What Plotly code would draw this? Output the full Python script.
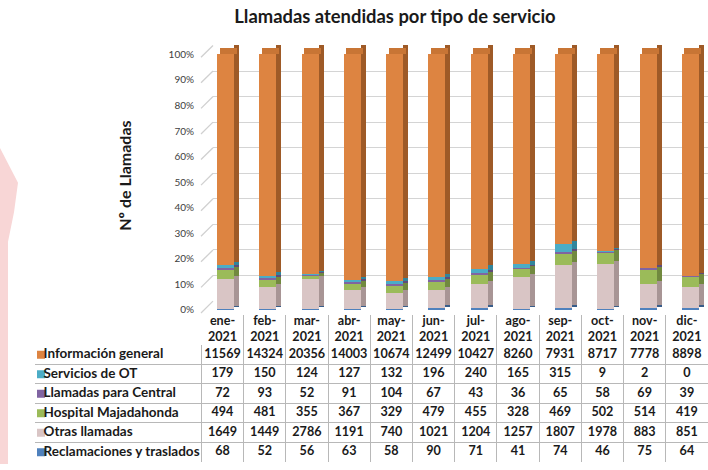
import plotly.graph_objects as go

# ---------------- data ----------------
months_header = ["ene-<br>2021", "feb-<br>2021", "mar-<br>2021", "abr-<br>2021", "may-<br>2021", "jun-<br>2021",
                 "jul-<br>2021", "ago-<br>2021", "sep-<br>2021", "oct-<br>2021", "nov-<br>2021", "dic-<br>2021"]

series_names = ["Información general", "Servicios de OT", "Llamadas para Central",
                "Hospital Majadahonda", "Otras llamadas", "Reclamaciones y traslados"]
informacion_general = [11569, 14324, 20356, 14003, 10674, 12499, 10427, 8260, 7931, 8717, 7778, 8898]
servicios_ot = [179, 150, 124, 127, 132, 196, 240, 165, 315, 9, 2, 0]
llamadas_central = [72, 93, 52, 91, 104, 67, 43, 36, 65, 58, 69, 39]
hospital_majadahonda = [494, 481, 355, 367, 329, 479, 455, 328, 469, 502, 514, 419]
otras_llamadas = [1649, 1449, 2786, 1191, 740, 1021, 1204, 1257, 1807, 1978, 883, 851]
reclamaciones = [68, 52, 56, 63, 58, 90, 71, 41, 74, 46, 75, 64]
y_ticks = list(range(0, 101, 10))

# ---------------- styles ----------------
front_colors = ["#DD8441", "#4BACC6", "#8064A2", "#9BBB59", "#D9C5C5", "#4F81BD"]
side_colors = ["#9E5A27", "#31859C", "#5F4B79", "#71893F", "#A89595", "#385D8A"]
top_color = "#C87535"
FONT = "Lato"
TXT = "#1a1a1a"
GRID = "#b8b8b8"

series_values = [informacion_general, servicios_ot, llamadas_central,
                 hospital_majadahonda, otras_llamadas, reclamaciones]
n = len(informacion_general)
xs = list(range(n))
totals = [sum(s[i] for s in series_values) for i in range(n)]

FW, FH = 708, 470
def PX(px):
    return px / FW
def PY(py):
    return 1 - py / FH

COLW = 42.25      # width of a month column (px)
LABW = 166        # width of the label column (px)
TAB_L = 35        # table left (px)
MON_L = TAB_L + LABW
HEAD_T, HEAD_B = 319, 349
ROW_H = 19.9

Y0, PXPCT = 314, 2.59          # bar axis: 0% pixel and pixels per percent
WALL_DY = 9                    # back wall shift up (px)

fig = go.Figure()

# back-wall gridlines subplot (x / y): invisible anchor trace
fig.add_trace(go.Scatter(x=[0], y=[0], mode="markers", marker=dict(opacity=0),
                         hoverinfo="skip", showlegend=False, xaxis="x", yaxis="y"))

# ---------------- stacked 100% bars ----------------
cum = [0.0] * n
DEPTH = 1.2
for k in list(range(len(series_values)))[::-1]:
    vals = series_values[k]
    pct = [v / t * 100 for v, t in zip(vals, totals)]
    base = cum[:]
    is_top = (k == 0)
    fig.add_trace(go.Bar(x=xs, y=pct, base=base, width=0.40, offset=-0.20,
                         marker=dict(color=front_colors[k], line=dict(width=0)),
                         name=series_names[k], showlegend=False,
                         xaxis="x2", yaxis="y2"))
    side_y = [p + (2 * DEPTH if is_top else 0) for p in pct]
    fig.add_trace(go.Bar(x=xs, y=side_y, base=[b + DEPTH for b in base], width=0.12, offset=0.20,
                         marker=dict(color=side_colors[k], line=dict(width=0)),
                         hoverinfo="skip", showlegend=False,
                         xaxis="x2", yaxis="y2"))
    cum = [c + p for c, p in zip(cum, pct)]

fig.add_trace(go.Bar(x=xs, y=[2 * DEPTH] * n, base=cum, width=0.40, offset=-0.14,
                     marker=dict(color=top_color, line=dict(width=0)),
                     hoverinfo="skip", showlegend=False, xaxis="x2", yaxis="y2"))

# ---------------- data table (header on x4/y4, body on x3/y3) ----------------
month_centers = [LABW + COLW * (i + 0.5) for i in range(n)]
nrows = len(series_values)
cell_x, cell_y, cell_t = [], [], []
for r, s in enumerate(series_values):
    for i in range(n):
        cell_x.append(month_centers[i])
        cell_y.append(nrows - r - 0.5)
        cell_t.append(f"<b>{s[i]}</b>")
fig.add_trace(go.Scatter(x=cell_x, y=cell_y, text=cell_t, mode="text", textposition="middle center",
                         textfont=dict(family=FONT, size=12.6, color=TXT),
                         hoverinfo="skip", showlegend=False, xaxis="x3", yaxis="y3"))
row_y = [nrows - r - 0.5 for r in range(nrows)]
fig.add_trace(go.Scatter(x=[5.5] * nrows, y=row_y, mode="markers",
                         marker=dict(symbol="square", size=8, color=front_colors, line=dict(width=0)),
                         hoverinfo="skip", showlegend=False, xaxis="x3", yaxis="y3"))
fig.add_trace(go.Scatter(x=[8] * nrows, y=row_y, mode="text", textposition="middle right",
                         text=[f"<b>{s}</b>" for s in series_names],
                         textfont=dict(family=FONT, size=13.5, color=TXT),
                         hoverinfo="skip", showlegend=False, xaxis="x3", yaxis="y3"))
fig.add_trace(go.Scatter(x=[i + 0.5 for i in range(n)], y=[0.5] * n, mode="text",
                         text=[f"<b>{m}</b>" for m in months_header], textposition="middle center",
                         textfont=dict(family=FONT, size=12.6, color=TXT),
                         hoverinfo="skip", showlegend=False, xaxis="x4", yaxis="y4"))

# ---------------- decorations ----------------
shapes = []
for v in y_ticks:
    yf = Y0 + 3 - PXPCT * v
    yb = Y0 - WALL_DY - PXPCT * v
    shapes.append(dict(type="line", xref="paper", yref="paper",
                       x0=PX(201), y0=PY(yf), x1=PX(213), y1=PY(yb),
                       line=dict(color="#d0d0d0", width=1.3)))
pts = [(0, 150), (18, 185), (14, 215), (8, 245), (8, 470), (0, 470)]
path = "M " + " L ".join(f"{PX(a)},{PY(b)}" for a, b in pts) + " Z"
shapes.append(dict(type="path", xref="paper", yref="paper", layer="below",
                   path=path, fillcolor="#f8d6d6", line=dict(width=0)))

r0 = -(225.6 - 195) / COLW
r1 = r0 + (708 - 195) / COLW
body_vlines = [0] + [LABW + COLW * k for k in range(n)]

fig.update_layout(
    width=FW, height=FH,
    margin=dict(l=0, r=0, t=0, b=0),
    paper_bgcolor="white", plot_bgcolor="rgba(0,0,0,0)",
    barmode="overlay", bargap=0, showlegend=False,
    shapes=shapes,
    title=dict(text="<b>Llamadas atendidas por tipo de servicio</b>",
               x=PX(395), xanchor="center", y=PY(17), yanchor="middle",
               font=dict(family=FONT, size=18.4, color=TXT)),
    # back wall grid
    xaxis=dict(domain=[PX(213), 1], range=[0, 1], visible=False, anchor="y"),
    yaxis=dict(domain=[PY(Y0 - WALL_DY), PY(Y0 - WALL_DY - 100 * PXPCT)], range=[-0.05, 100.05], anchor="x",
               tickvals=y_ticks, showgrid=True, gridcolor="#d4d4d4", gridwidth=1.3,
               showticklabels=False, zeroline=False, ticks="", showline=False),
    # bars
    xaxis2=dict(domain=[PX(195), 1], range=[r0, r1], visible=False, anchor="y2"),
    yaxis2=dict(domain=[PY(Y0), PY(Y0 - 104 * PXPCT)], range=[0, 104], anchor="x2",
                tickvals=y_ticks, ticktext=[f"{v}%" for v in y_ticks],
                showgrid=False, zeroline=False, showline=False, ticks="",
                tickfont=dict(family=FONT, size=10, color="#404040")),
    # table body
    xaxis3=dict(domain=[PX(TAB_L), 1], range=[-0.5, 708 - TAB_L], anchor="y3",
                tickvals=body_vlines, showgrid=True, gridcolor=GRID, gridwidth=1,
                showticklabels=False, zeroline=False, ticks="", showline=False),
    yaxis3=dict(domain=[PY(HEAD_B + ROW_H * nrows), PY(HEAD_B)], range=[-0.02, nrows + 0.02], anchor="x3",
                tickvals=list(range(nrows + 1)), showgrid=True, gridcolor=GRID, gridwidth=1,
                showticklabels=False, zeroline=False, ticks="", showline=False),
    # table header
    xaxis4=dict(domain=[PX(MON_L), 1], range=[-0.01, (708 - MON_L) / COLW], anchor="y4",
                tickvals=list(range(n)), showgrid=True, gridcolor=GRID, gridwidth=1,
                showticklabels=False, zeroline=False, ticks="", showline=False),
    yaxis4=dict(domain=[PY(HEAD_B), PY(HEAD_T)], range=[0, 1.02], anchor="x4",
                tickvals=[1], showgrid=True, gridcolor=GRID, gridwidth=1,
                showticklabels=False, zeroline=False, ticks="", showline=False),
    annotations=[dict(text="<b>Nº de Llamadas</b>", xref="paper", yref="paper",
                      x=PX(125), y=PY(178), xanchor="center", yanchor="middle",
                      textangle=-90, showarrow=False,
                      font=dict(family=FONT, size=16, color=TXT))],
)

fig.write_html("out.html", config={"displayModeBar": False},
               post_script="document.body.style.margin='0';document.body.style.overflow='hidden';")
